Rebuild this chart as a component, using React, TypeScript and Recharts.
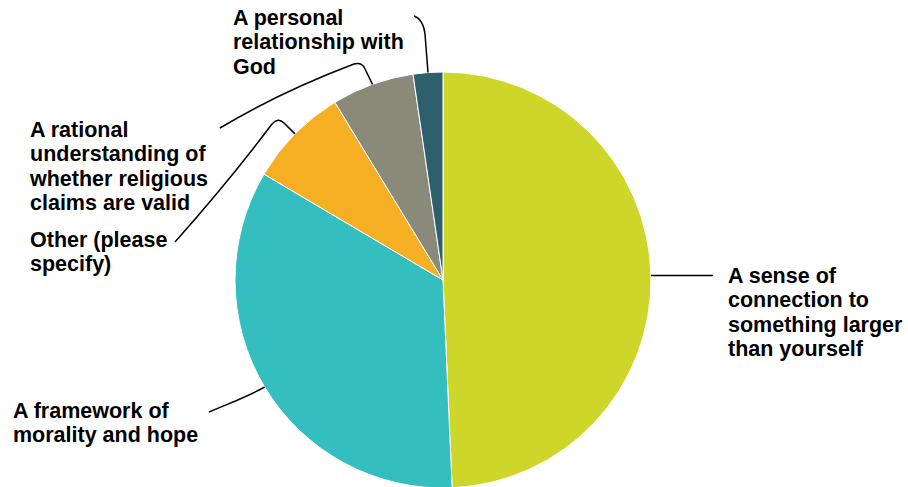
import React from 'react';
import { PieChart, Pie, Cell } from 'recharts';

// categories in clockwise order starting at 12 o'clock
const categories = [
  'A sense of connection to something larger than yourself',
  'A framework of morality and hope',
  'Other (please specify)',
  'A rational understanding of whether religious claims are valid',
  'A personal relationship with God',
];
const shares = [49.3, 34.2, 7.8, 6.4, 2.3];
const sliceColors = ['#CFD62A', '#35BEC0', '#F6AF22', '#8A8A7A', '#2D5F6D'];

const labelText = [
  ['A sense of', 'connection to', 'something larger', 'than yourself'],
  ['A framework of', 'morality and hope'],
  ['Other (please', 'specify)'],
  ['A rational', 'understanding of', 'whether religious', 'claims are valid'],
  ['A personal', 'relationship with', 'God'],
];

// label layout: text origin + leader path from slice midpoint (sx, sy)
const labelLayout = [
  { x: 728, y: 283, path: (sx: number, sy: number) => `M${sx},${sy} L713,${sy}` },
  { x: 13, y: 418, path: (sx: number, sy: number) => `M${sx},${sy} C245,398 232,402 209,412` },
  { x: 30, y: 247, path: (sx: number, sy: number) => `M${sx},${sy} L284,123 Q278,117 272,124 Q230,180 175,242` },
  { x: 30, y: 137, path: (sx: number, sy: number) => `M${sx},${sy} L364,67 Q361,62 354,64 Q280,92 220,128` },
  { x: 233, y: 25, path: (sx: number, sy: number) => `M${sx},${sy} L425,34 Q423,19 414,16` },
];

const data = categories.map((name, i) => ({ name, value: shares[i] }));

const RAD = Math.PI / 180;

const renderLabel = (props: any) => {
  const { cx, cy, midAngle, outerRadius, index } = props;
  const sx = cx + outerRadius * Math.cos(-midAngle * RAD);
  const sy = cy + outerRadius * Math.sin(-midAngle * RAD);
  const lay = labelLayout[index];
  return (
    <g>
      <path d={lay.path(sx, sy)} stroke="#000" strokeWidth={1.5} fill="none" />
      <text
        x={lay.x}
        y={lay.y}
        fontFamily="'Liberation Sans', Arial, sans-serif"
        fontWeight="bold"
        fontSize={21.5}
        fill="#000"
      >
        {labelText[index].map((line, j) => (
          <tspan key={j} x={lay.x} dy={j === 0 ? 0 : 24.4}>
            {line}
          </tspan>
        ))}
      </text>
    </g>
  );
};

export default function App() {
  return (
    <div style={{ position: 'absolute', left: 0, top: 0, width: 908, height: 487, background: '#fff' }}>
      <PieChart width={908} height={487} margin={{ top: 0, right: 0, bottom: 0, left: 0 }}>
        <Pie
          data={data}
          dataKey="value"
          nameKey="name"
          cx={443}
          cy={280}
          outerRadius={208}
          startAngle={90}
          endAngle={-270}
          stroke="#fff"
          strokeWidth={1}
          label={renderLabel}
          labelLine={false}
          isAnimationActive={false}
        >
          {data.map((d, i) => (
            <Cell key={d.name} fill={sliceColors[i]} />
          ))}
        </Pie>
      </PieChart>
    </div>
  );
}
